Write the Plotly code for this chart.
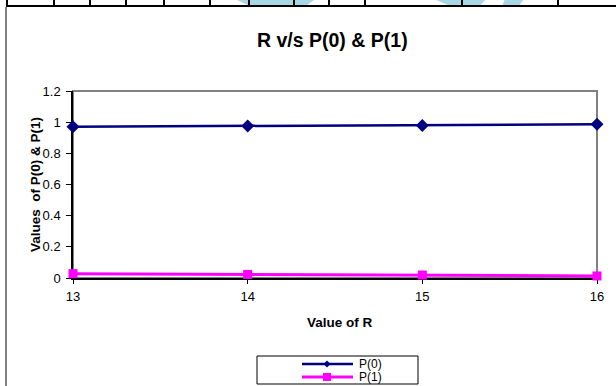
import plotly.graph_objects as go

# Data
r_values = [13, 14, 15, 16]
p0 = [0.971, 0.976, 0.979, 0.986]
p1 = [0.028, 0.023, 0.019, 0.013]
y_ticks = [0, 0.2, 0.4, 0.6, 0.8, 1.0, 1.2]
y_tick_text = ["0", "0.2", "0.4", "0.6", "0.8", "1", "1.2"]

W, H = 616, 386
PL, PR, PT, PB = 73, 597, 91, 278  # plot area edges in pixels

NAVY = "#000080"
MAGENTA = "#ff00ff"
FONT = "Arial, Liberation Sans, sans-serif"


def px(x):
    return (x - PL) / (PR - PL)


def py(y):
    return (PB - y) / (PB - PT)


fig = go.Figure()
fig.add_trace(go.Scatter(
    x=r_values, y=p0, name="P(0)", mode="lines+markers",
    line=dict(color=NAVY, width=2.5),
    marker=dict(symbol="diamond", size=10, color=NAVY),
    cliponaxis=False, showlegend=False,
))
fig.add_trace(go.Scatter(
    x=r_values, y=p1, name="P(1)", mode="lines+markers",
    line=dict(color=MAGENTA, width=3),
    marker=dict(symbol="square", size=9, color=MAGENTA),
    cliponaxis=False, showlegend=False,
))

shapes = []
# plot-area frame (grey top/right)
shapes.append(dict(type="rect", xref="paper", yref="paper", x0=0, x1=1, y0=0, y1=1,
                   line=dict(color="#808080", width=2), layer="below"))
# outer chart border on the left
shapes.append(dict(type="line", xref="paper", yref="paper", x0=px(6), x1=px(6),
                   y0=py(7), y1=py(H + 5), line=dict(color="#808080", width=2)))

# light blue logo fragments in the top strip
for poly in [
    [(237, 0), (314, 0), (306, 6), (250, 6)],
    [(434, -1), (486, -1), (480, 6), (450, 6)],
    [(505, -1), (524, -1), (519, 6), (502, 6)],
]:
    path = "M " + " L ".join(f"{px(a)},{py(b)}" for a, b in poly) + " Z"
    shapes.append(dict(type="path", xref="paper", yref="paper", path=path,
                       fillcolor="#a8d8e6", line=dict(width=0)))

# table rule lines at the top
shapes.append(dict(type="line", xref="paper", yref="paper", x0=px(6), x1=px(W + 2),
                   y0=py(6), y1=py(6), line=dict(color="black", width=2)))
for vx in [7, 54, 90, 126, 164, 210, 249, 294, 329, 365, 462, 558]:
    shapes.append(dict(type="line", xref="paper", yref="paper", x0=px(vx), x1=px(vx),
                       y0=py(-2), y1=py(6), line=dict(color="black", width=2)))

# legend box
shapes.append(dict(type="rect", xref="paper", yref="paper", x0=px(257), x1=px(418),
                   y0=py(384), y1=py(356), line=dict(color="black", width=1),
                   fillcolor="white"))
for ly, col, w in [(364, NAVY, 2.5), (377, MAGENTA, 3)]:
    shapes.append(dict(type="line", xref="paper", yref="paper", x0=px(302), x1=px(353),
                       y0=py(ly), y1=py(ly), line=dict(color=col, width=w)))
# legend markers
d = 3.5
shapes.append(dict(type="path", xref="paper", yref="paper",
                   path=f"M {px(327 - d)},{py(364)} L {px(327)},{py(364 - d)} "
                        f"L {px(327 + d)},{py(364)} L {px(327)},{py(364 + d)} Z",
                   fillcolor=NAVY, line=dict(width=0)))
s = 4
shapes.append(dict(type="rect", xref="paper", yref="paper", x0=px(327 - s), x1=px(327 + s),
                   y0=py(377 + s), y1=py(377 - s), fillcolor=MAGENTA, line=dict(width=0)))

annotations = [
    dict(text="<b>R v/s P(0) & P(1)</b>", x=px(332), y=py(40), xref="paper", yref="paper",
         showarrow=False, xanchor="center", yanchor="middle",
         font=dict(family=FONT, size=19.5, color="black")),
    dict(text="<b>Value of R</b>", x=px(340), y=py(322), xref="paper", yref="paper",
         showarrow=False, xanchor="center", yanchor="middle",
         font=dict(family=FONT, size=13.5, color="black")),
    dict(text="<b>Values  of P(0) & P(1)</b>", x=px(35), y=py(185), xref="paper", yref="paper",
         showarrow=False, textangle=-90, xanchor="center", yanchor="middle",
         font=dict(family=FONT, size=13.5, color="black")),
    dict(text="P(0)", x=px(357), y=py(364), xref="paper", yref="paper",
         showarrow=False, xanchor="left", yanchor="middle",
         font=dict(family=FONT, size=12, color="black")),
    dict(text="P(1)", x=px(357), y=py(377), xref="paper", yref="paper",
         showarrow=False, xanchor="left", yanchor="middle",
         font=dict(family=FONT, size=12, color="black")),
]

fig.update_layout(
    width=W, height=H, autosize=False,
    margin=dict(l=PL, r=W - PR, t=PT, b=H - PB, pad=0),
    paper_bgcolor="white", plot_bgcolor="white",
    font=dict(family=FONT, size=13, color="black"),
    shapes=shapes, annotations=annotations, showlegend=False,
)
fig.update_xaxes(
    range=[13, 16], tickvals=r_values, ticktext=[str(v) for v in r_values],
    showgrid=False, zeroline=False, showline=True, linecolor="black", linewidth=1.5,
    ticks="outside", ticklen=4, tickcolor="black", tickfont=dict(size=13),
    ticklabelstandoff=2, layer="below traces",
)
fig.update_yaxes(
    range=[0, 1.2], tickvals=y_ticks, ticktext=y_tick_text,
    showgrid=False, zeroline=False, showline=True, linecolor="black", linewidth=1.5,
    ticks="outside", ticklen=5, tickcolor="black", tickfont=dict(size=13),
    ticklabelstandoff=3, layer="below traces",
)

fig.write_html("out.html")
